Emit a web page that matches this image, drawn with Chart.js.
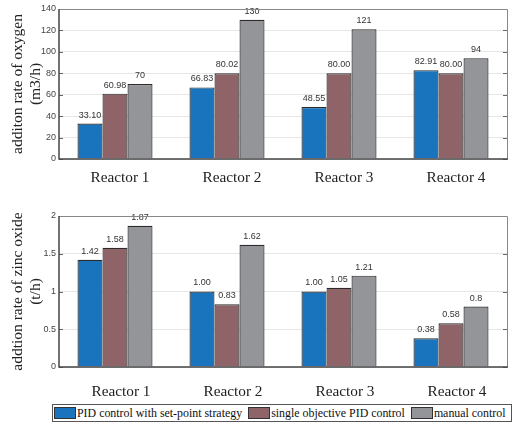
<!DOCTYPE html>
<html>
<head>
<meta charset="utf-8">
<script src="https://cdn.jsdelivr.net/npm/chart.js@4/dist/chart.umd.min.js"></script>
<style>
  html, body { margin: 0; padding: 0; background: #fff; }
  #wrap { position: relative; width: 512px; height: 426px; overflow: hidden; }
  .box { position: absolute; left: 0; width: 512px; height: 200px; }
  #legend {
    position: absolute; left: 52px; top: 404px; width: 460px; height: 18px;
    border: 1px solid #555; box-sizing: border-box;
    display: flex; align-items: center;
    font-family: "Liberation Serif", "Times New Roman", serif; font-size: 11.9px; color: #111;
    white-space: nowrap;
  }
  #legend .sw { display: inline-block; width: 20px; height: 10px; border: 1px solid #333; margin: 0 1px 0 0; }
  #legend .item { display: flex; align-items: center; margin-right: 6px; }
  #legend .item:first-child .sw { margin-left: 1px; }
</style>
</head>
<body>
<div id="wrap">
  <div class="box" style="top:0"><canvas id="oxy" width="512" height="200"></canvas></div>
  <div class="box" style="top:200px"><canvas id="zinc" width="512" height="200"></canvas></div>
  <div id="legend"></div>
</div>
<script>
// Categories and series
const reactors = ['Reactor 1', 'Reactor 2', 'Reactor 3', 'Reactor 4'];
const seriesNames = ['PID control with set-point strategy', 'single objective PID control', 'manual control'];
const seriesColors = ['#1a74bd', '#8e6468', '#949599'];

// Oxygen addition rate (m3/h), as printed above each bar
const oxyPid    = ['33.10', '66.83', '48.55', '82.91'];
const oxySingle = ['60.98', '80.02', '80.00', '80.00'];
const oxyManual = ['70', '130', '121', '94'];
const oxyTicks  = [0, 20, 40, 60, 80, 100, 120, 140];

// Zinc oxide addition rate (t/h)
const znPid    = ['1.42', '1.00', '1.00', '0.38'];
const znSingle = ['1.58', '0.83', '1.05', '0.58'];
const znManual = ['1.87', '1.62', '1.21', '0.8'];
const znTicks  = [0, 0.5, 1, 1.5, 2];

const serif = '"Liberation Serif", "Times New Roman", serif';
const sans = '"Liberation Sans", Arial, sans-serif';

// Value labels above bars, frame and mirrored tick marks
const decor = {
  id: 'decor',
  afterDatasetsDraw(chart) {
    const ctx = chart.ctx;
    ctx.save();
    ctx.font = '9px ' + sans;
    ctx.fillStyle = '#333';
    ctx.textAlign = 'center';
    ctx.textBaseline = 'bottom';
    chart.data.datasets.forEach((ds, i) => {
      chart.getDatasetMeta(i).data.forEach((bar, j) => {
        ctx.fillText(ds.labelsText[j], bar.x, bar.y - 4);
      });
    });
    const a = chart.chartArea;
    const y = chart.scales.y;
    ctx.strokeStyle = '#666';
    ctx.lineWidth = 1;
    y.ticks.forEach(t => {
      const py = Math.round(y.getPixelForValue(t.value)) + 0.5;
      ctx.beginPath();
      ctx.moveTo(a.left, py); ctx.lineTo(a.left + 4, py);
      ctx.moveTo(a.right, py); ctx.lineTo(a.right - 4, py);
      ctx.stroke();
    });
    ctx.strokeStyle = '#888';
    ctx.beginPath();
    ctx.moveTo(a.left, a.top + 0.5); ctx.lineTo(a.right + 0.5, a.top + 0.5); ctx.lineTo(a.right + 0.5, a.bottom);
    ctx.stroke();
    ctx.strokeStyle = '#444';
    ctx.lineWidth = 1.5;
    ctx.beginPath();
    ctx.moveTo(a.left, a.top); ctx.lineTo(a.left, a.bottom); ctx.lineTo(a.right + 1, a.bottom);
    ctx.stroke();
    ctx.restore();
  }
};

function makeChart(id, series, ticks, max, title, topPad, xHeight, xPad, xShift) {
  const datasets = series.map((vals, i) => ({
    label: seriesNames[i],
    data: vals.map(Number),
    labelsText: vals,
    backgroundColor: seriesColors[i],
    borderColor: '#2b2b2b',
    borderWidth: 1.2,
    categoryPercentage: 0.67,
    barPercentage: 1.0
  }));
  return new Chart(document.getElementById(id), {
    type: 'bar',
    data: { labels: reactors, datasets },
    plugins: [decor],
    options: {
      responsive: false,
      animation: false,
      layout: { padding: { top: topPad, right: 5, bottom: 0, left: 0 } },
      plugins: { legend: { display: false }, tooltip: { enabled: false } },
      scales: {
        x: {
          grid: { display: false, drawTicks: false },
          border: { display: false },
          ticks: { font: { family: serif, size: 15.3 }, color: '#222', padding: xPad, labelOffset: xShift },
          afterFit(s) { s.height = xHeight; }
        },
        y: {
          min: 0, max: max,
          afterBuildTicks(s) { s.ticks = ticks.map(v => ({ value: v })); },
          grid: { color: '#e6e6e6', drawTicks: false },
          border: { display: false },
          ticks: { font: { family: sans, size: 9 }, color: '#444', padding: 3, callback: v => String(v) },
          title: {
            display: true, text: title,
            font: { family: serif, size: 15.5, lineHeight: 1.15 }, color: '#222',
            padding: { top: 9, bottom: 0 }
          },
          afterFit(s) { s.width = 59; }
        }
      }
    }
  });
}

makeChart('oxy', [oxyPid, oxySingle, oxyManual], oxyTicks, 140,
  ['additon rate of oxygen', '(m3/h)'], 9, 41, 10, 5);
makeChart('zinc', [znPid, znSingle, znManual], znTicks, 2,
  ['addtion rate of zinc oxide', '(t/h)'], 16, 33, 16, 6);

// Legend row
const leg = document.getElementById('legend');
seriesNames.forEach((name, i) => {
  const it = document.createElement('span');
  it.className = 'item';
  const sw = document.createElement('span');
  sw.className = 'sw';
  sw.style.background = seriesColors[i];
  it.appendChild(sw);
  it.appendChild(document.createTextNode(name));
  leg.appendChild(it);
});
</script>
</body>
</html>
